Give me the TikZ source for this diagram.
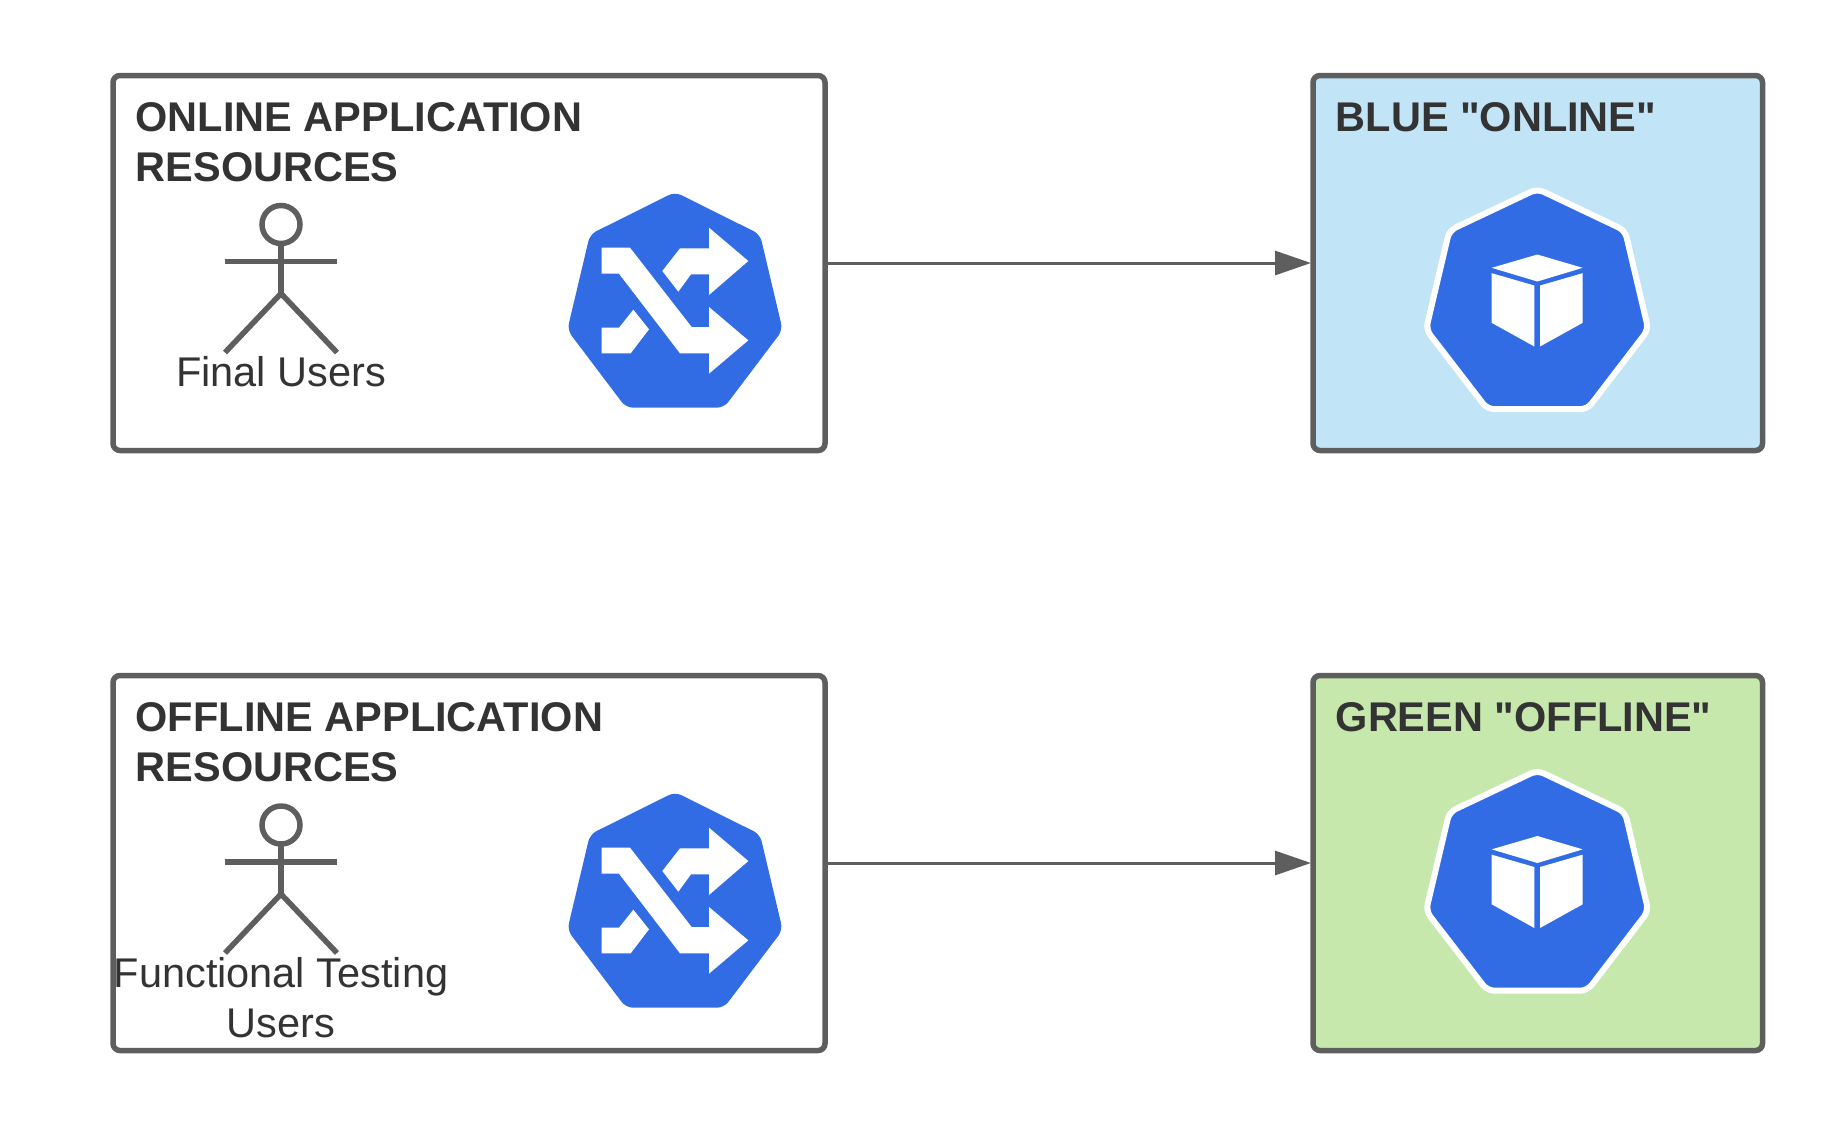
\documentclass[tikz,border=0pt]{standalone}
\usepackage{xcolor}
\usepackage{fontspec}
\setmainfont[Ligatures=TeXOff]{Liberation Sans}
\usetikzlibrary{arrows.meta,positioning}
\definecolor{edgegray}{HTML}{5E5E5E}
\definecolor{inkgray}{HTML}{333333}
\definecolor{kubeblue}{HTML}{326CE5}
\definecolor{onlineblue}{HTML}{C1E4F7}
\definecolor{offlinegreen}{HTML}{C7E8AC}
\tikzset{
  lbicon/.pic={
    \fill[kubeblue,rounded corners=7pt] (375,33) -- (630,160) -- (698,447) -- (522,680) -- (228,680) -- (52,447) -- (120,160) -- cycle;
    \fill[white] (155,200) -- (240,200) -- (425,438) -- (477,438) -- (477,378) -- (595,478) -- (477,578) -- (477,517) -- (390,517) -- (207,278) -- (155,278) -- cycle;
    \fill[white] (337,270) -- (390,202) -- (477,202) -- (477,140) -- (595,240) -- (477,342) -- (477,280) -- (423,280) -- (385,332) -- cycle;
    \fill[white] (155,440) -- (207,440) -- (250,386) -- (297,445) -- (242,517) -- (155,517) -- cycle;
  },
  podicon/.pic={
    \filldraw[fill=kubeblue,draw=white,line width=6pt,rounded corners=7pt] (442,55) -- (705,180) -- (775,477) -- (592,716) -- (292,716) -- (108,477) -- (178,180) -- cycle;
    \fill[white] (305,292) -- (442,252) -- (578,292) -- (442,333) -- cycle;
    \fill[white] (305,308) -- (433,345) -- (433,528) -- (305,457) -- cycle;
    \fill[white] (450,345) -- (578,308) -- (578,457) -- (450,528) -- cycle;
  },
  actor/.pic={
    \draw[edgegray,line width=5.5pt] (0,0) circle (19pt);
    \draw[edgegray,line width=5.5pt] (-56,37) -- (56,37);
    \draw[edgegray,line width=5.5pt] (0,19) -- (0,69);
    \draw[edgegray,line width=5.5pt] (-56,128) -- (0,69) -- (56,128);
  }
}
\begin{document}
\begin{tikzpicture}[x=1pt,y=-1pt,
  appbox/.style={draw=edgegray,line width=5.5pt,rounded corners=7pt,outer sep=0pt,inner sep=0pt,minimum width=712pt,minimum height=375pt},
  envbox/.style={draw=edgegray,line width=5.5pt,rounded corners=7pt,outer sep=0pt,inner sep=0pt,minimum width=449.5pt,minimum height=375pt},
  boxtitle/.style={anchor=north west,align=left,inner sep=0pt,text=inkgray,font=\fontsize{41.5}{50}\selectfont\bfseries,xshift=22.5pt,yshift=-26.5pt},
  usertext/.style={align=center,inner sep=0pt,text=inkgray,font=\fontsize{41.5}{50}\selectfont},
  arr/.style={-{Triangle[length=36pt,width=24pt]},draw=edgegray,line width=3pt,shorten >=2pt}]
\useasboundingbox (0,0) rectangle (1838,1125);
\node[appbox] (online) at (469,263) {};
\node[envbox,fill=onlineblue,right=488pt of online] (blue) {};
\node[appbox,below=225pt of online] (offline) {};
\node[envbox,fill=offlinegreen,below=225pt of blue] (green) {};
\node[boxtitle] (onlinetitle) at (online.north west) {ONLINE APPLICATION\\RESOURCES};
\node[boxtitle] (bluetitle) at (blue.north west) {BLUE "ONLINE"};
\node[boxtitle] (offlinetitle) at (offline.north west) {OFFLINE APPLICATION\\RESOURCES};
\node[boxtitle] (greentitle) at (green.north west) {GREEN "OFFLINE"};
\pic at (281,224.5) {actor};
\pic at (281,825) {actor};
\node[usertext] (finalusers) at (281,372) {Final Users};
\node[usertext] (testusers) at (281,998) {Functional Testing\\Users};
\pic[scale=1/3] at (550,181) {lbicon};
\pic[scale=1/3] at (550,781) {lbicon};
\pic[scale=1/3] at (1390,170.5) {podicon};
\pic[scale=1/3] at (1390,752) {podicon};
\draw[arr] (online) -- (blue);
\draw[arr] (offline) -- (green);
\end{tikzpicture}
\end{document}
